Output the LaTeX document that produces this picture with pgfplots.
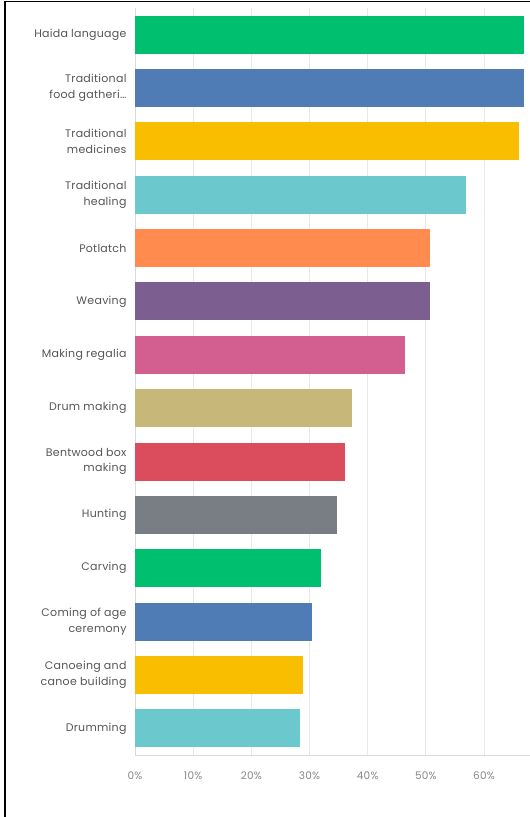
\documentclass[border=0pt]{standalone}
\usepackage{pgfplots}
\pgfplotsset{compat=1.18}
\usepackage{fontspec}
\setmainfont[LetterSpace=2.5]{Poppins}
\definecolor{cgreen}{HTML}{00BF6F}
\definecolor{cblue}{HTML}{507CB6}
\definecolor{cyellow}{HTML}{F9BE00}
\definecolor{cteal}{HTML}{6BC8CD}
\definecolor{corange}{HTML}{FF8B4F}
\definecolor{cpurple}{HTML}{7D5E90}
\definecolor{cpink}{HTML}{D25F90}
\definecolor{ctan}{HTML}{C7B879}
\definecolor{cred}{HTML}{DB4D5C}
\definecolor{cgray}{HTML}{787E83}
\definecolor{labgray}{HTML}{555555}
\definecolor{tickgray}{HTML}{888888}
\begin{document}
\begin{tikzpicture}
\useasboundingbox (0pt,0pt) rectangle (530pt,817pt);
\draw[line width=1.6pt,black] (5pt,0pt) -- (5pt,815.5pt) -- (530pt,815.5pt);
\begin{axis}[
  at={(135pt,62pt)}, anchor=south west,
  scale only axis, width=395pt, height=747pt,
  xbar, bar width=38pt, bar shift=0pt,
  xmin=0, xmax=67.9, ymin=-0.5, ymax=13.5,
  y dir=reverse,
  axis x line*=bottom, axis y line*=left,
  axis line style={draw=black!15, line width=0.8pt},
  xtick={0,10,20,30,40,50,60}, ytick={0,1,2,3,4,5,6,7,8,9,10,11,12,13},
  major tick length=0pt,
  xmajorgrids, major grid style={draw=black!9, line width=0.8pt},
  xticklabel={\pgfmathprintnumber{\tick}\%},
  /pgf/number format/assume math mode=true,
  xticklabel style={font=\fontsize{10.5}{12}\selectfont, text=tickgray},
  xtick align=outside,
  x tick label style={yshift=-13pt},
  yticklabel style={align=right, font=\fontsize{11}{15.5}\selectfont, text=labgray, xshift=-5pt},
  yticklabels={{Haida language},{Traditional\\food gatheri\ldots},{Traditional\\medicines},{Traditional\\healing},{Potlatch},{Weaving},{Making regalia},{Drum making},{Bentwood box\\making},{Hunting},{Carving},{Coming of age\\ceremony},{Canoeing and\\canoe building},{Drumming}},
  every axis plot/.append style={draw=none},
]
\addplot[fill=cgreen] coordinates {(66.8,0)};
\addplot[fill=cblue] coordinates {(66.8,1)};
\addplot[fill=cyellow] coordinates {(66.0,2)};
\addplot[fill=cteal] coordinates {(56.9,3)};
\addplot[fill=corange] coordinates {(50.7,4)};
\addplot[fill=cpurple] coordinates {(50.7,5)};
\addplot[fill=cpink] coordinates {(46.4,6)};
\addplot[fill=ctan] coordinates {(37.3,7)};
\addplot[fill=cred] coordinates {(36.1,8)};
\addplot[fill=cgray] coordinates {(34.7,9)};
\addplot[fill=cgreen] coordinates {(32.0,10)};
\addplot[fill=cblue] coordinates {(30.4,11)};
\addplot[fill=cyellow] coordinates {(28.9,12)};
\addplot[fill=cteal] coordinates {(28.4,13)};
\end{axis}
\end{tikzpicture}
\end{document}
